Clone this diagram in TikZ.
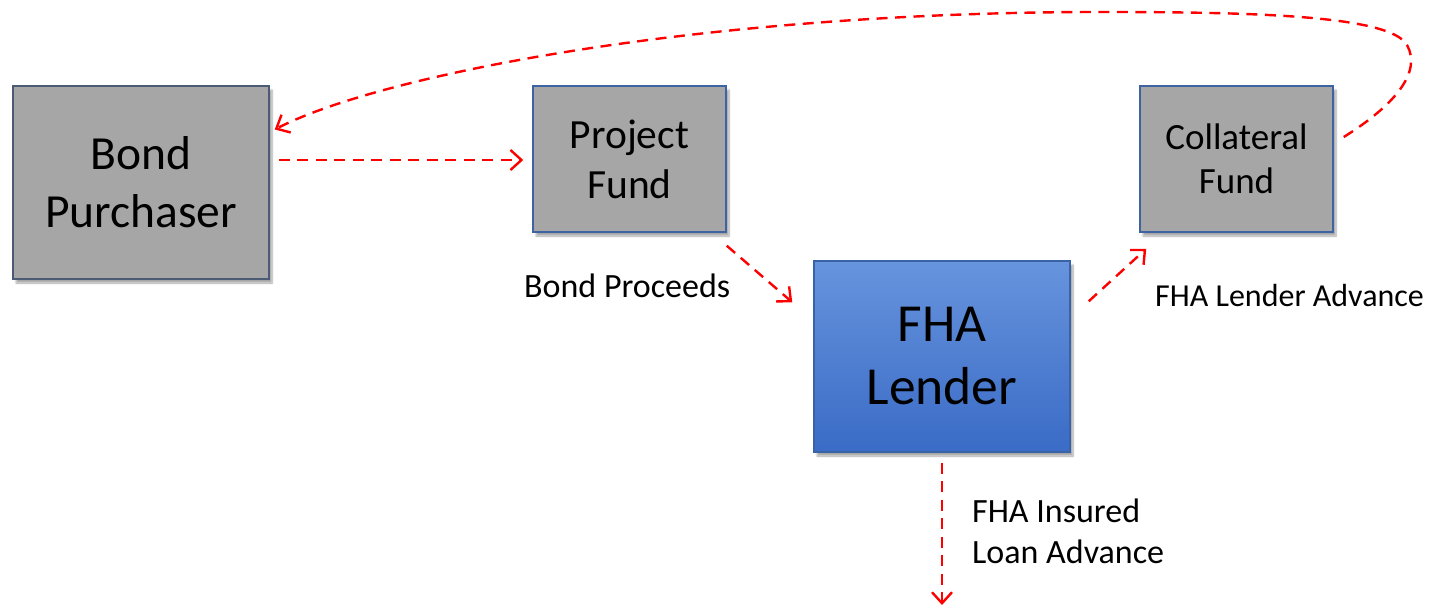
\documentclass[tikz,border=0pt]{standalone}
\usepackage{fontspec}
\setmainfont{Carlito}
\usetikzlibrary{arrows.meta,shadows.blur,calc}
\definecolor{boxgray}{HTML}{A6A6A6}
\definecolor{bpborder}{HTML}{4C5B74}
\definecolor{fundborder}{HTML}{3E63A3}
\definecolor{fhatop}{HTML}{6794DD}
\definecolor{fhabot}{HTML}{3A6BC6}
\definecolor{fhaborder}{HTML}{3A62A6}
\tikzset{
  gbox/.style={rectangle, fill=boxgray, line width=1.5pt, align=center, inner sep=0pt,
    blur shadow={shadow xshift=3pt, shadow yshift=-4pt, shadow blur steps=8, shadow opacity=35}},
  flow/.style={red, line width=2.4pt, dash pattern=on 11pt off 7.5pt,
    -{Straight Barb[length=11pt,width=20pt,line width=2.4pt]}},
  lbl/.style={inner sep=0pt, align=left, font=\fontsize{34}{41}\selectfont}
}
\begin{document}
\begin{tikzpicture}[x=1pt,y=-1pt]
\useasboundingbox (0,0) rectangle (1430,610);
\node[gbox, draw=bpborder, minimum width=256pt, minimum height=193pt,
  font=\fontsize{47.5}{58}\selectfont] (bp) at (141,182.5) {Bond\\Purchaser};
\node[gbox, draw=fundborder, minimum width=193pt, minimum height=146pt,
  font=\fontsize{41.5}{50}\selectfont] (pf) at (629.5,159) {Project\\Fund};
\node[gbox, draw=fundborder, minimum width=193pt, minimum height=146pt,
  font=\fontsize{37}{44}\selectfont] (cf) at (1236.5,159) {Collateral\\Fund};
\node[gbox, draw=fhaborder, top color=fhatop, bottom color=fhabot,
  minimum width=256pt, minimum height=191pt,
  font=\fontsize{53.5}{63}\selectfont] (fha) at (942,356.5) {FHA\\Lender};

\coordinate (bpout) at ($(bp.east)+(9,-22.5)$);
\coordinate (pfin) at ($(pf.west)+(-9,1)$);
\draw[flow] (bpout) -- (pfin);

\coordinate (pfout) at ($(pf.south east)+(0,13)$);
\coordinate (fhain) at ($(fha.north west)+(-21,42)$);
\draw[flow] (pfout) -- (fhain);

\coordinate (fhaout) at ($(fha.north east)+(18,41)$);
\coordinate (cfin) at ($(cf.south west)+(7,16)$);
\draw[flow] (fhaout) -- (cfin);

\coordinate (fhadown) at ($(fha.south)+(0,10)$);
\coordinate (loanend) at (942,605);
\draw[flow] (fhadown) -- (loanend);

\coordinate (cfout) at ($(cf.east)+(10,-22)$);
\coordinate (bpin) at ($(bp.east)+(5,-53)$);
\draw[flow] (cfout) .. controls (1395,105) and (1422,72) .. (1407,45)
  .. controls (1390,15) and (1250,12) .. (1100,12)
  .. controls (700,12) and (380,75) .. (bpin);

\node[lbl, anchor=west] (bpl) at (524,286) {Bond Proceeds};
\node[lbl, anchor=west, font=\fontsize{32}{40}\selectfont] (fal) at (1155,296) {FHA Lender Advance};
\node[lbl, anchor=north west] (ila) at (972,499) {FHA Insured\\Loan Advance};
\end{tikzpicture}
\end{document}
